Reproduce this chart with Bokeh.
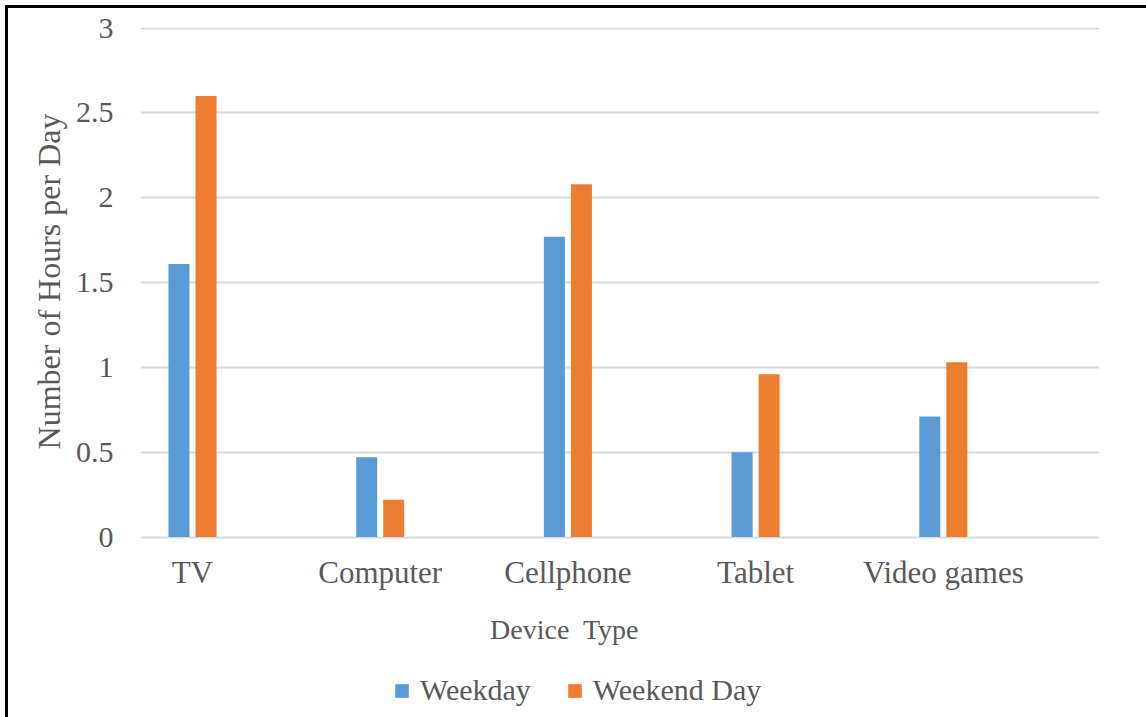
from bokeh.plotting import figure
from bokeh.models import (ColumnDataSource, Range1d, FixedTicker, Legend, LegendItem, Label, Title)
from bokeh.transform import dodge
from bokeh.core.properties import value
from bokeh.embed import file_html
from bokeh.resources import INLINE

categories = ["TV", "Computer", "Cellphone", "Tablet", "Video games"]
weekday = [1.61, 0.47, 1.77, 0.50, 0.71]
weekend_day = [2.60, 0.22, 2.08, 0.96, 1.03]
y_ticks = [0, 0.5, 1, 1.5, 2, 2.5, 3]
y_tick_labels = ["0", "0.5", "1", "1.5", "2", "2.5", "3"]

FONT = "Liberation Serif"
GRAY = "#595959"
BLUE = "#5B9BD5"
ORANGE = "#ED7D31"

src = ColumnDataSource(dict(x=list(range(len(categories))), cat=categories,
                            zero=[0] * len(categories),
                            weekday=weekday, weekend=weekend_day))

p = figure(width=1138, height=709, output_backend="svg", toolbar_location=None,
           x_range=Range1d(-0.277, 4.832), y_range=Range1d(-1.064, 3.004),
           min_border_left=132, min_border_right=47, min_border_top=19, min_border_bottom=0,
           frame_width=959, frame_height=690)
p.styles = {"margin-left": "5px", "margin-top": "5px",
            "border-left": "3px solid #000", "border-top": "3px solid #000"}
p.outline_line_color = None
p.background_fill_color = "white"
p.border_fill_color = "white"

r1 = p.vbar(x=dodge("x", -0.072, range=p.x_range), top="weekday", width=0.112,
            source=src, color=BLUE, line_color=None)
r2 = p.vbar(x=dodge("x", 0.072, range=p.x_range), top="weekend", width=0.112,
            source=src, color=ORANGE, line_color=None)

# category labels under the baseline
p.text(x="x", y="zero", text="cat", source=src, y_offset=35,
       text_font=value(FONT), text_font_size="31px", text_color=GRAY,
       text_align="center", text_baseline="alphabetic")

# axes
p.xaxis.visible = False
p.yaxis.ticker = FixedTicker(ticks=y_ticks)
p.yaxis.major_label_overrides = {t: l for t, l in zip(y_ticks, y_tick_labels)}
ax = p.yaxis[0]
ax.axis_line_color = None
ax.major_tick_line_color = None
ax.minor_tick_line_color = None
ax.major_tick_out = 0
ax.major_tick_in = 0
ax.major_label_text_font = FONT
ax.major_label_text_font_size = "30px"
ax.major_label_text_color = GRAY
ax.major_label_standoff = 27

p.xgrid.grid_line_color = None
p.ygrid.grid_line_color = "#D9D9D9"
p.ygrid.grid_line_width = 2

# y axis title
p.add_layout(Title(text="Number of Hours per Day", align="right", offset=86,
                   standoff=12, text_font=FONT, text_font_size="32px",
                   text_color=GRAY, text_font_style="normal"), "left")

# x axis title
p.add_layout(Label(x=1.982, y=-0.545, text="Device\u00a0 Type", text_font=FONT,
                   text_font_size="28px", text_color=GRAY, text_align="center",
                   text_baseline="alphabetic"))

legend = Legend(items=[LegendItem(label="Weekday", renderers=[r1]),
                       LegendItem(label="Weekend Day", renderers=[r2])],
                orientation="horizontal", location=(253, 10),
                glyph_width=17, glyph_height=17, label_standoff=10, spacing=35,
                padding=0, margin=0, border_line_color=None,
                background_fill_alpha=0,
                label_text_font=FONT, label_text_font_size="30px",
                label_text_color=GRAY, label_height=30)
p.add_layout(legend, "center")

open("out.html", "w").write(file_html(p, INLINE))
